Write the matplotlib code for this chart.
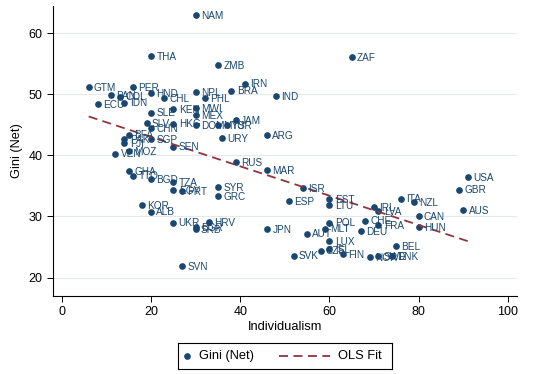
import numpy as np
import matplotlib
matplotlib.use("Agg")
import matplotlib.pyplot as plt

plt.rcParams['font.family'] = ['Liberation Sans', 'DejaVu Sans']

# country codes, individualism score, net gini
countries = ['NAM', 'THA', 'ZMB', 'ZAF', 'PER', 'GTM', 'IRN', 'HND', 'NPL', 'BRA',
             'CHL', 'PHL', 'IND', 'PAN', 'COL', 'ECU', 'IDN', 'SLE', 'KEN', 'MWI',
             'MEX', 'SLV', 'HKG', 'DOM', 'MYS', 'TUR', 'JAM', 'URY', 'ARG', 'CHN',
             'BFA', 'PAK', 'FJI', 'SGP', 'SEN', 'MOZ', 'VEN', 'RUS', 'MAR', 'GHA',
             'TTO', 'BGD', 'TZA', 'EGY', 'PRT', 'SYR', 'GRC', 'KOR', 'ALB', 'UKR',
             'HRV', 'BGR', 'SRB', 'SVN', 'ISR', 'ESP', 'EST', 'LTU', 'IRL', 'LVA',
             'ITA', 'NZL', 'CAN', 'HUN', 'POL', 'MLT', 'AUT', 'LUX', 'CHE', 'FRA',
             'DEU', 'BEL', 'SVK', 'CZE', 'ISL', 'FIN', 'NOR', 'SWE', 'DNK', 'USA',
             'GBR', 'AUS', 'JPN']
individualism = [30, 20, 35, 65, 16, 6, 41, 20, 30, 38,
                 23, 32, 48, 11, 13, 8, 14, 20, 25, 30,
                 30, 19, 25, 30, 35, 37, 39, 36, 46, 20,
                 15, 14, 14, 20, 25, 15, 12, 39, 46, 15,
                 16, 20, 25, 25, 27, 35, 35, 18, 20, 25,
                 33, 30, 30, 27, 54, 51, 60, 60, 70, 71,
                 76, 79, 80, 80, 60, 59, 55, 60, 68, 71,
                 67, 75, 52, 58, 60, 63, 69, 71, 74, 91,
                 89, 90, 46]
gini = [62.9, 56.2, 54.8, 56.0, 51.2, 51.2, 51.7, 50.2, 50.3, 50.6,
        49.4, 49.4, 49.7, 49.8, 49.6, 48.4, 48.6, 47.0, 47.5, 47.7,
        46.6, 45.3, 45.2, 44.9, 44.9, 44.9, 45.7, 42.8, 43.3, 44.4,
        43.4, 42.7, 42.0, 42.6, 41.4, 40.7, 40.3, 38.9, 37.6, 37.4,
        36.7, 36.1, 35.6, 34.3, 34.1, 34.8, 33.3, 31.8, 30.8, 29.0,
        29.1, 28.2, 27.9, 21.9, 34.6, 32.5, 32.8, 31.8, 31.5, 30.9,
        32.9, 32.3, 30.1, 28.3, 29.0, 28.0, 27.2, 26.0, 29.3, 28.6,
        27.6, 25.1, 23.6, 24.4, 24.7, 23.8, 23.4, 23.5, 23.5, 36.4,
        34.4, 31.0, 27.9]

navy = '#1a476f'
maroon = '#90353b'

x = np.array(individualism, dtype=float)
y = np.array(gini)
b, a = np.polyfit(x, y, 1)
fx = np.array([x.min(), x.max()])

fig = plt.figure(figsize=(5.54, 3.74), dpi=100)
ax = fig.add_axes([0.0957, 0.2086, 0.837, 0.775])

ax.grid(axis='y', color='#e4eaec', linewidth=0.8)
ax.set_axisbelow(True)

ax.plot(x, y, 'o', color=navy, markersize=3.8, linestyle='none')
for c, xi, yi in zip(countries, x, y):
    ax.annotate(c, (xi, yi), xytext=(3.8, -0.5), textcoords='offset points',
                fontsize=7.2, color=navy, va='center', ha='left')
ax.plot(fx, a + b * fx, color=maroon, linewidth=1.3, dashes=(5, 3))

ax.set_xlim(-2, 102)
ax.set_ylim(17, 64.4)
ax.set_xticks([0, 20, 40, 60, 80, 100])
ax.set_yticks([20, 30, 40, 50, 60])
ax.tick_params(direction='out', length=4, labelsize=9, width=0.7)
ax.spines['top'].set_visible(False)
ax.spines['right'].set_visible(False)
ax.set_xlabel('Individualism', fontsize=9.3, labelpad=2)
ax.set_ylabel('Gini (Net)', fontsize=9.2)

# legend box below the plot, laid out like the Stata one
lax = fig.add_axes([178 / 554, 1 - 369 / 374, 213.5 / 554, 26 / 374])
lax.set_xlim(0, 213.5)
lax.set_ylim(0, 26)
lax.set_xticks([])
lax.set_yticks([])
for s in lax.spines.values():
    s.set_linewidth(0.8)
    s.set_color('black')
lax.plot([9], [13], 'o', color=navy, markersize=3.8)
lax.text(21, 13, 'Gini (Net)', fontsize=9.3, va='center', ha='left')
lax.plot([101, 152], [13, 13], color=maroon, linewidth=1.3, dashes=(5, 3))
lax.text(159.5, 13, 'OLS Fit', fontsize=9.3, va='center', ha='left')

fig.savefig('out.png', dpi=100)
